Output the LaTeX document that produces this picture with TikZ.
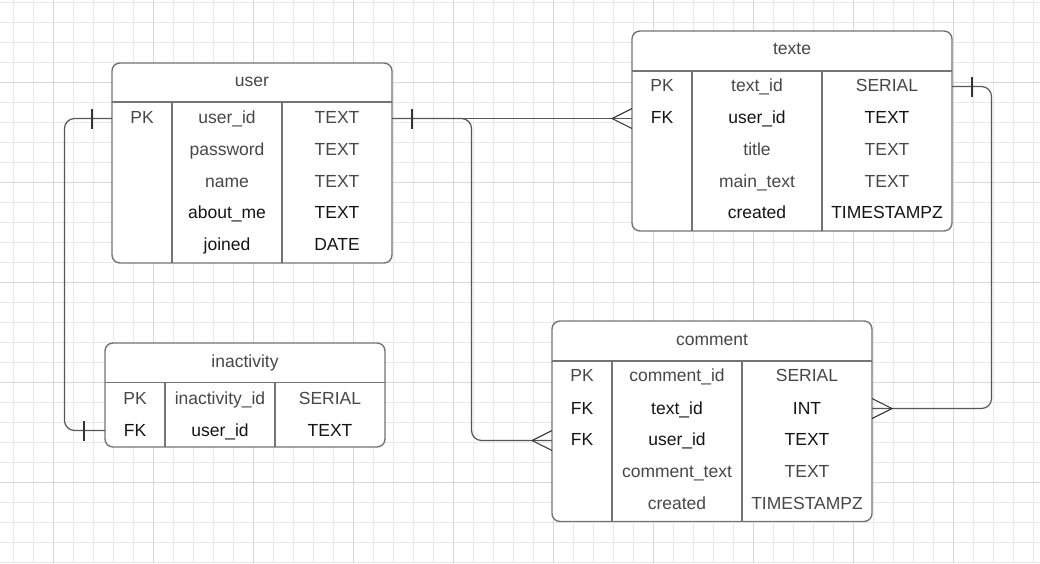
\documentclass[tikz,border=0pt]{standalone}
\usepackage{fontspec}
\setmainfont{Liberation Sans}
\usetikzlibrary{calc}
\definecolor{gridc}{HTML}{E8E8E8}
\definecolor{gridd}{HTML}{D8D8D8}
\definecolor{framec}{HTML}{747474}
\definecolor{linec}{HTML}{575757}
\definecolor{markc}{HTML}{333333}
\definecolor{softc}{HTML}{474747}
\definecolor{inkc}{HTML}{141414}
\begin{document}
\begin{tikzpicture}[x=1pt,y=-1pt,
  font=\fontsize{17.5}{21}\selectfont,
  gridfine/.style={draw=gridc, line width=0.9pt},
  gridbold/.style={draw=gridd, line width=1pt},
  tbl/.style={draw=framec, line width=1.4pt, fill=white, rounded corners=8pt,
              inner sep=0pt, outer sep=0pt, anchor=north west},
  divider/.style={draw=framec, line width=1.3pt},
  txt/.style={anchor=base, inner sep=0pt, text=softc},
  key/.style={txt, text=inkc},
  conn/.style={draw=linec, line width=1.2pt, rounded corners=10pt},
  onemark/.style={draw=markc, line width=1.1pt},
]
% page and background grid
\useasboundingbox (0,0) rectangle (1040,563);
\fill[white] (0,0) rectangle (1040,563);
\foreach \i in {0,...,51} {
  \pgfmathsetmacro\gx{13+20*\i}
  \draw[gridfine] (\gx,0) -- (\gx,563);
}
\foreach \i in {0,...,28} {
  \pgfmathsetmacro\gy{2.7+20*\i}
  \draw[gridfine] (0,\gy) -- (1040,\gy);
}
\foreach \gx in {53,153,...,953} \draw[gridbold] (\gx,0) -- (\gx,563);
\foreach \gy in {82.7,182.7,...,482.7} \draw[gridbold] (0,\gy) -- (1040,\gy);

% ---------------- table: user ----------------
\node[tbl, minimum width=280pt, minimum height=200pt] (user) at (112,63) {};
\draw[divider] (112,102) -- (392,102);
\draw[divider] (172,102) -- (172,263);
\draw[divider] (282,102) -- (282,263);
\node[txt] (user-title) at (252,86.7) {user};
\node[txt] (user-k1) at (142,123) {PK};
\node[txt] (user-n1) at (227,123) {user\_id};
\node[txt] (user-t1) at (337,123) {TEXT};
\node[txt] (user-n2) at (227,155) {password};
\node[txt] (user-t2) at (337,155) {TEXT};
\node[txt] (user-n3) at (227,187) {name};
\node[txt] (user-t3) at (337,187) {TEXT};
\node[key] (user-n4) at (227,218.5) {about\_me};
\node[key] (user-t4) at (337,218.5) {TEXT};
\node[key] (user-n5) at (227,250.5) {joined};
\node[key] (user-t5) at (337,250.5) {DATE};

% ---------------- table: texte ----------------
\node[tbl, minimum width=320pt, minimum height=200pt] (texte) at (632,31) {};
\draw[divider] (632,71) -- (952,71);
\draw[divider] (692,71) -- (692,231);
\draw[divider] (822,71) -- (822,231);
\node[txt] (texte-title) at (792,54.5) {texte};
\node[txt] (texte-k1) at (662,91.3) {PK};
\node[txt] (texte-n1) at (757,91.3) {text\_id};
\node[txt] (texte-t1) at (887,91.3) {SERIAL};
\node[key] (texte-k2) at (662,123) {FK};
\node[key] (texte-n2) at (757,123) {user\_id};
\node[key] (texte-t2) at (887,123) {TEXT};
\node[txt] (texte-n3) at (757,155) {title};
\node[txt] (texte-t3) at (887,155) {TEXT};
\node[txt] (texte-n4) at (757,187) {main\_text};
\node[txt] (texte-t4) at (887,187) {TEXT};
\node[key] (texte-n5) at (757,218) {created};
\node[key] (texte-t5) at (887,218) {TIMESTAMPZ};

% ---------------- table: inactivity ----------------
\node[tbl, minimum width=280pt, minimum height=104pt] (inact) at (105,343) {};
\draw[divider] (105,382.5) -- (385,382.5);
\draw[divider] (165,382.5) -- (165,447);
\draw[divider] (275,382.5) -- (275,447);
\node[txt] (inact-title) at (245,367) {inactivity};
\node[txt] (inact-k1) at (135,404.3) {PK};
\node[txt] (inact-n1) at (220,404.3) {inactivity\_id};
\node[txt] (inact-t1) at (330,404.3) {SERIAL};
\node[key] (inact-k2) at (135,436) {FK};
\node[key] (inact-n2) at (220,436) {user\_id};
\node[key] (inact-t2) at (330,436) {TEXT};

% ---------------- table: comment ----------------
\node[tbl, minimum width=320pt, minimum height=200.5pt] (comment) at (552,321) {};
\draw[divider] (552,361) -- (872,361);
\draw[divider] (612,361) -- (612,521.5);
\draw[divider] (742,361) -- (742,521.5);
\node[txt] (comment-title) at (712,345) {comment};
\node[txt] (comment-k1) at (582,381.3) {PK};
\node[txt] (comment-n1) at (677,381.3) {comment\_id};
\node[txt] (comment-t1) at (807,381.3) {SERIAL};
\node[key] (comment-k2) at (582,414) {FK};
\node[key] (comment-n2) at (677,414) {text\_id};
\node[key] (comment-t2) at (807,414) {INT};
\node[key] (comment-k3) at (582,445.3) {FK};
\node[key] (comment-n3) at (677,445.3) {user\_id};
\node[key] (comment-t3) at (807,445.3) {TEXT};
\node[txt] (comment-n4) at (677,477.3) {comment\_text};
\node[txt] (comment-t4) at (807,477.3) {TEXT};
\node[txt] (comment-n5) at (677,509.7) {created};
\node[txt] (comment-t5) at (807,509.7) {TIMESTAMPZ};

% ---------------- attachment points ----------------
\coordinate (user-pk-w) at (user.west |- 0,118.5);
\coordinate (user-pk-e) at (user.east |- 0,118.5);
\coordinate (texte-fk-w) at (texte.west |- 0,118.5);
\coordinate (texte-pk-e) at (texte.east |- 0,86.5);
\coordinate (inact-fk-w) at (inact.west |- 0,430.5);
\coordinate (comment-fk1-e) at (comment.east |- 0,408.5);
\coordinate (comment-fk2-w) at (comment.west |- 0,440.5);

% ---------------- relationships ----------------
% user 1 -- 1 inactivity
\draw[conn] (user-pk-w) -- ++(-47.5,0) |- (inact-fk-w);
\draw[onemark] ($(user-pk-w)+(-20,-10)$) -- ++(0,20);
\draw[onemark] ($(inact-fk-w)+(-21,-10)$) -- ++(0,20);

% user 1 -- N texte, and user 1 -- N comment sharing the first run
\draw[conn] (user-pk-e) -- (texte-fk-w);
\draw[conn] (user-pk-e) -- ++(79.5,0) |- (comment-fk2-w);
\draw[onemark] ($(user-pk-e)+(20,-10)$) -- ++(0,20);
\draw[onemark] ($(texte-fk-w)+(0,-10)$) -- ($(texte-fk-w)+(-20,0)$) -- ($(texte-fk-w)+(0,10)$);
\draw[onemark] ($(comment-fk2-w)+(0,-10)$) -- ($(comment-fk2-w)+(-20,0)$) -- ($(comment-fk2-w)+(0,10)$);

% texte 1 -- N comment
\draw[conn] (texte-pk-e) -- ++(39.5,0) |- (comment-fk1-e);
\draw[onemark] ($(texte-pk-e)+(20,-10)$) -- ++(0,20);
\draw[onemark] ($(comment-fk1-e)+(0,-10)$) -- ($(comment-fk1-e)+(20,0)$) -- ($(comment-fk1-e)+(0,10)$);
\end{tikzpicture}
\end{document}
